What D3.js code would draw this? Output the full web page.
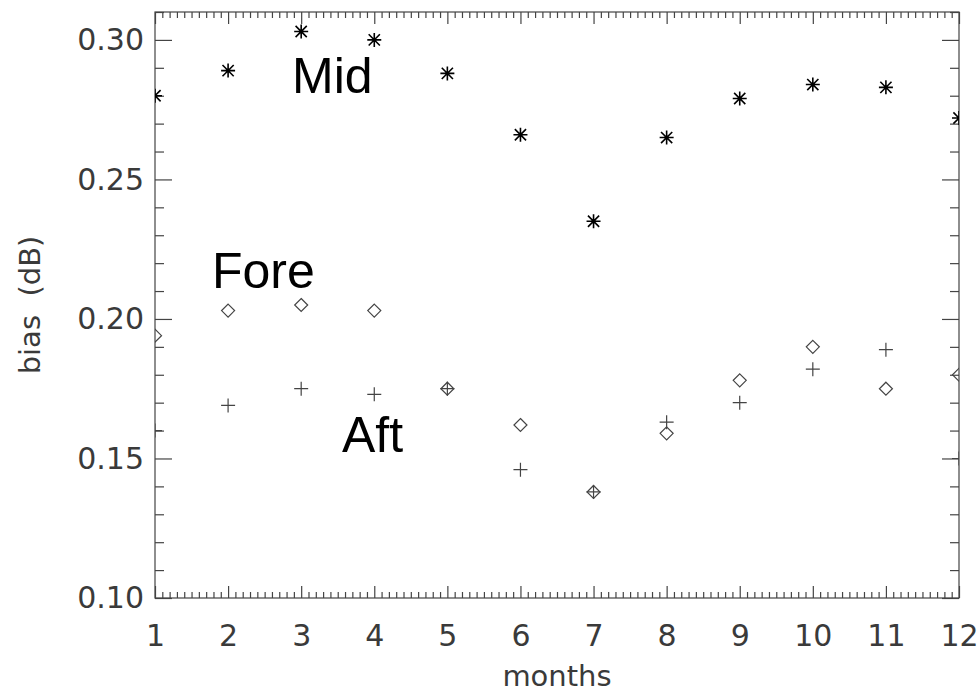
<!DOCTYPE html>
<html>
<head>
<meta charset="utf-8">
<script src="https://cdn.jsdelivr.net/npm/d3@7"></script>
<style>
  body { margin: 0; background: #fff; }
  svg text { font-family: "DejaVu Sans", sans-serif; }
</style>
</head>
<body>
<svg id="chart"></svg>
<script>
var months = [1, 2, 3, 4, 5, 6, 7, 8, 9, 10, 11, 12]
var mid  = [0.280, 0.289, 0.303, 0.300, 0.288, 0.266, 0.235, 0.265, 0.279, 0.284, 0.283, 0.272]
var fore = [0.194, 0.203, 0.205, 0.203, 0.175, 0.162, 0.138, 0.159, 0.178, 0.190, 0.175, 0.180]
var aft  = [0.160, 0.169, 0.175, 0.173, 0.175, 0.146, 0.138, 0.163, 0.170, 0.182, 0.189, 0.150]
var yTicks = [0.10, 0.15, 0.20, 0.25, 0.30]
var xTicks = months

var W = 979, H = 693
var m = {left: 155, right: 20, top: 12, bottom: 95}
var pw = W - m.left - m.right, ph = H - m.top - m.bottom
var axisCol = '#444'
var textCol = '#3a3a3a'

var svg = d3.select('#chart').attr('width', W).attr('height', H)
var g = svg.append('g').attr('transform', 'translate(' + m.left + ',' + m.top + ')')

var x = d3.scaleLinear().domain([1, 12]).range([0, pw])
var y = d3.scaleLinear().domain([0.10, 0.31]).range([ph, 0])

var xMinor = d3.range(10, 121).map(d => d / 10).filter(d => d % 1 !== 0)
var yMinor = d3.range(10, 32).map(d => d / 100).filter(d => Math.round(d * 100) % 5 !== 0)

function styleAxis (sel) {
  sel.select('.domain').remove()
  sel.selectAll('line').attr('stroke', axisCol).attr('stroke-width', 1.2)
  sel.selectAll('text').attr('fill', textCol).style('font-size', '30px')
}

// bottom
g.append('g').attr('transform', 'translate(0,' + ph + ')')
  .call(d3.axisBottom(x).tickValues(xTicks).tickSize(-12).tickPadding(27).tickFormat(d3.format('d')))
  .call(styleAxis)
g.append('g').attr('transform', 'translate(0,' + ph + ')')
  .call(d3.axisBottom(x).tickValues(xMinor).tickSize(-6).tickFormat(''))
  .call(styleAxis)
// top
g.append('g')
  .call(d3.axisTop(x).tickValues(xTicks).tickSize(-12).tickFormat(''))
  .call(styleAxis)
g.append('g')
  .call(d3.axisTop(x).tickValues(xMinor).tickSize(-6).tickFormat(''))
  .call(styleAxis)
// left
g.append('g')
  .call(d3.axisLeft(y).tickValues(yTicks).tickSize(-17).tickPadding(11).tickFormat(d3.format('.2f')))
  .call(styleAxis)
g.append('g')
  .call(d3.axisLeft(y).tickValues(yMinor).tickSize(-9).tickFormat(''))
  .call(styleAxis)
// right
g.append('g').attr('transform', 'translate(' + pw + ',0)')
  .call(d3.axisRight(y).tickValues(yTicks).tickSize(-17).tickFormat(''))
  .call(styleAxis)
g.append('g').attr('transform', 'translate(' + pw + ',0)')
  .call(d3.axisRight(y).tickValues(yMinor).tickSize(-9).tickFormat(''))
  .call(styleAxis)

g.append('rect').attr('width', pw).attr('height', ph)
  .attr('fill', 'none').attr('stroke', axisCol).attr('stroke-width', 1.2)

svg.append('defs').append('clipPath').attr('id', 'clip')
  .append('rect').attr('width', pw).attr('height', ph)

var marks = g.append('g').attr('clip-path', 'url(#clip)')

// Mid: asterisks
var s = 7
marks.selectAll('.mid').data(months).enter().append('path').attr('class', 'mid')
  .attr('transform', (d, i) => 'translate(' + x(d) + ',' + y(mid[i]) + ')')
  .attr('d', 'M0,' + -s + 'V' + s + 'M' + -s + ',0H' + s +
    'M' + -s * 0.8 + ',' + -s * 0.8 + 'L' + s * 0.8 + ',' + s * 0.8 +
    'M' + -s * 0.8 + ',' + s * 0.8 + 'L' + s * 0.8 + ',' + -s * 0.8)
  .attr('stroke', '#000').attr('stroke-width', 1.6).attr('fill', 'none')

// Fore: diamonds
var dS = 6.5
marks.selectAll('.fore').data(months).enter().append('path').attr('class', 'fore')
  .attr('transform', (d, i) => 'translate(' + x(d) + ',' + y(fore[i]) + ')')
  .attr('d', 'M0,' + -dS + 'L' + dS + ',0L0,' + dS + 'L' + -dS + ',0Z')
  .attr('stroke', '#444').attr('stroke-width', 1.2).attr('fill', 'none')

// Aft: plus
var pS = 7
marks.selectAll('.aft').data(months).enter().append('path').attr('class', 'aft')
  .attr('transform', (d, i) => 'translate(' + x(d) + ',' + y(aft[i]) + ')')
  .attr('d', 'M0,' + -pS + 'V' + pS + 'M' + -pS + ',0H' + pS)
  .attr('stroke', '#444').attr('stroke-width', 1.2).attr('fill', 'none')

// series labels
var lab = [['Mid', 292, 93], ['Fore', 212, 288], ['Aft', 342, 452]]
lab.forEach(function (l) {
  svg.append('text').attr('x', l[1]).attr('y', l[2]).text(l[0])
    .style('font-family', '"Liberation Sans", Arial, sans-serif').style('font-size', '50px').attr('fill', '#000')
})

// axis titles
svg.append('text').attr('x', m.left + pw / 2).attr('y', 686).attr('text-anchor', 'middle')
  .attr('fill', textCol).style('font-size', '29px').text('months')
svg.append('text').attr('transform', 'translate(40,' + (m.top + y(0.205)) + ') rotate(-90)')
  .attr('text-anchor', 'middle').attr('fill', textCol).style('font-size', '29px')
  .style('white-space', 'pre').text('bias  (dB)')
</script>
</body>
</html>
